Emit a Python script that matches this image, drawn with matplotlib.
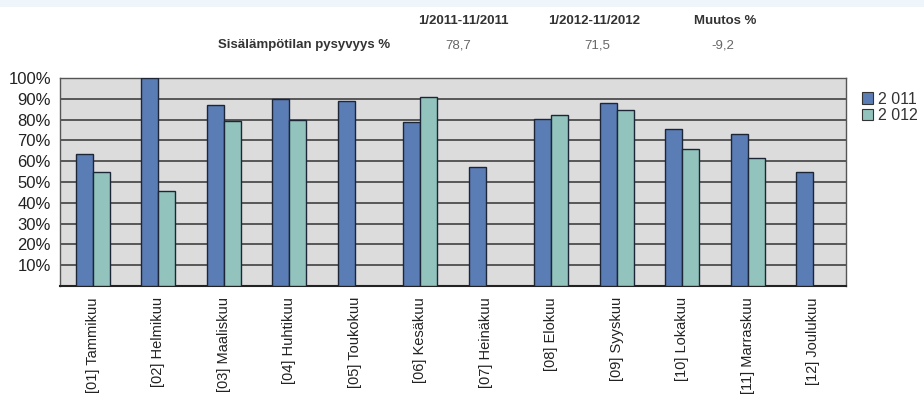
import matplotlib
matplotlib.use("Agg")
import matplotlib.pyplot as plt
import numpy as np
from matplotlib.patches import Patch, Rectangle

plt.rcParams['font.family'] = ['Liberation Sans', 'DejaVu Sans']

months = ["[01] Tammikuu", "[02] Helmikuu", "[03] Maaliskuu", "[04] Huhtikuu",
          "[05] Toukokuu", "[06] Kesäkuu", "[07] Heinäkuu", "[08] Elokuu",
          "[09] Syyskuu", "[10] Lokakuu", "[11] Marraskuu", "[12] Joulukuu"]
vals_2011 = [63.3, 100.0, 87.1, 89.7, 88.9, 78.8, 57.2, 80.2, 88.1, 75.6, 73.2, 54.8]
vals_2012 = [54.7, 45.8, 79.1, 79.7, np.nan, 90.8, np.nan, 82.3, 84.6, 65.9, 61.4, np.nan]
series_labels = ["2 011", "2 012"]

header_cols = ["1/2011-11/2011", "1/2012-11/2012", "Muutos %"]
header_row = "Sisälämpötilan pysyvyys %"
header_vals = ["78,7", "71,5", "-9,2"]
yticks = [10, 20, 30, 40, 50, 60, 70, 80, 90, 100]

c2011 = "#5b7db6"
c2012 = "#92c3bd"
edge = "#1c2636"

fig = plt.figure(figsize=(9.24, 3.94), dpi=100)
fig.patch.set_facecolor("white")
# light top band
fig.patches.append(Rectangle((0, 1 - 7 / 394), 1, 7 / 394, transform=fig.transFigure,
                             facecolor="#eef6fb", edgecolor="none", zorder=0))

ax = fig.add_axes([60 / 924, 1 - 286 / 394, 786 / 924, 208 / 394])
ax.set_facecolor("#dcdcdc")

x = np.arange(len(months))
w = 0.26
ax.bar(x - w / 2, vals_2011, w, color=c2011, edgecolor=edge, linewidth=1.0, zorder=3,
       label=series_labels[0])
ax.bar(x + w / 2, vals_2012, w, color=c2012, edgecolor=edge, linewidth=1.0, zorder=3,
       label=series_labels[1])

ax.set_xlim(-0.5, len(months) - 0.5)
ax.set_ylim(0, 100)
ax.set_yticks(yticks)
ax.set_yticklabels([f"{v}%" for v in yticks], fontsize=12, color="#222222")
ax.set_xticks(x)
ax.set_xticklabels(months, rotation=90, fontsize=10.5, color="#222222")
ax.tick_params(axis="both", length=0)
ax.tick_params(axis="y", pad=6.5)
ax.tick_params(axis="x", pad=8)
ax.yaxis.grid(True, color="#333333", linewidth=1.1, zorder=1)
ax.set_axisbelow(True)
for side in ["top", "right", "left"]:
    ax.spines[side].set_color("#555555")
    ax.spines[side].set_linewidth(1.0)
ax.spines["bottom"].set_color("#222222")
ax.spines["bottom"].set_linewidth(1.5)

handles = [Patch(facecolor=c2011, edgecolor="#333333", linewidth=0.8),
           Patch(facecolor=c2012, edgecolor="#333333", linewidth=0.8)]
ax.legend(handles, series_labels, loc="upper left", bbox_to_anchor=(1.02, 0.935),
          frameon=False, fontsize=11.5, handlelength=0.7, handleheight=0.7,
          handletextpad=0.35, labelspacing=0.12, borderaxespad=0, borderpad=0,
          labelcolor="#333333")

# header table
col_x = [463, 594, 725]
for cx, t in zip(col_x, header_cols):
    fig.text(cx / 924, 1 - 21 / 394, t, ha="center", va="center", fontsize=9.5,
             fontweight="bold", color="#333333")
fig.text(390 / 924, 1 - 45 / 394, header_row, ha="right", va="center", fontsize=9.5,
         fontweight="bold", color="#333333")
for cx, t in zip([458, 597, 723], header_vals):
    fig.text(cx / 924, 1 - 45 / 394, t, ha="center", va="center", fontsize=9.5,
             color="#666666")

fig.savefig("out.png", dpi=100)
